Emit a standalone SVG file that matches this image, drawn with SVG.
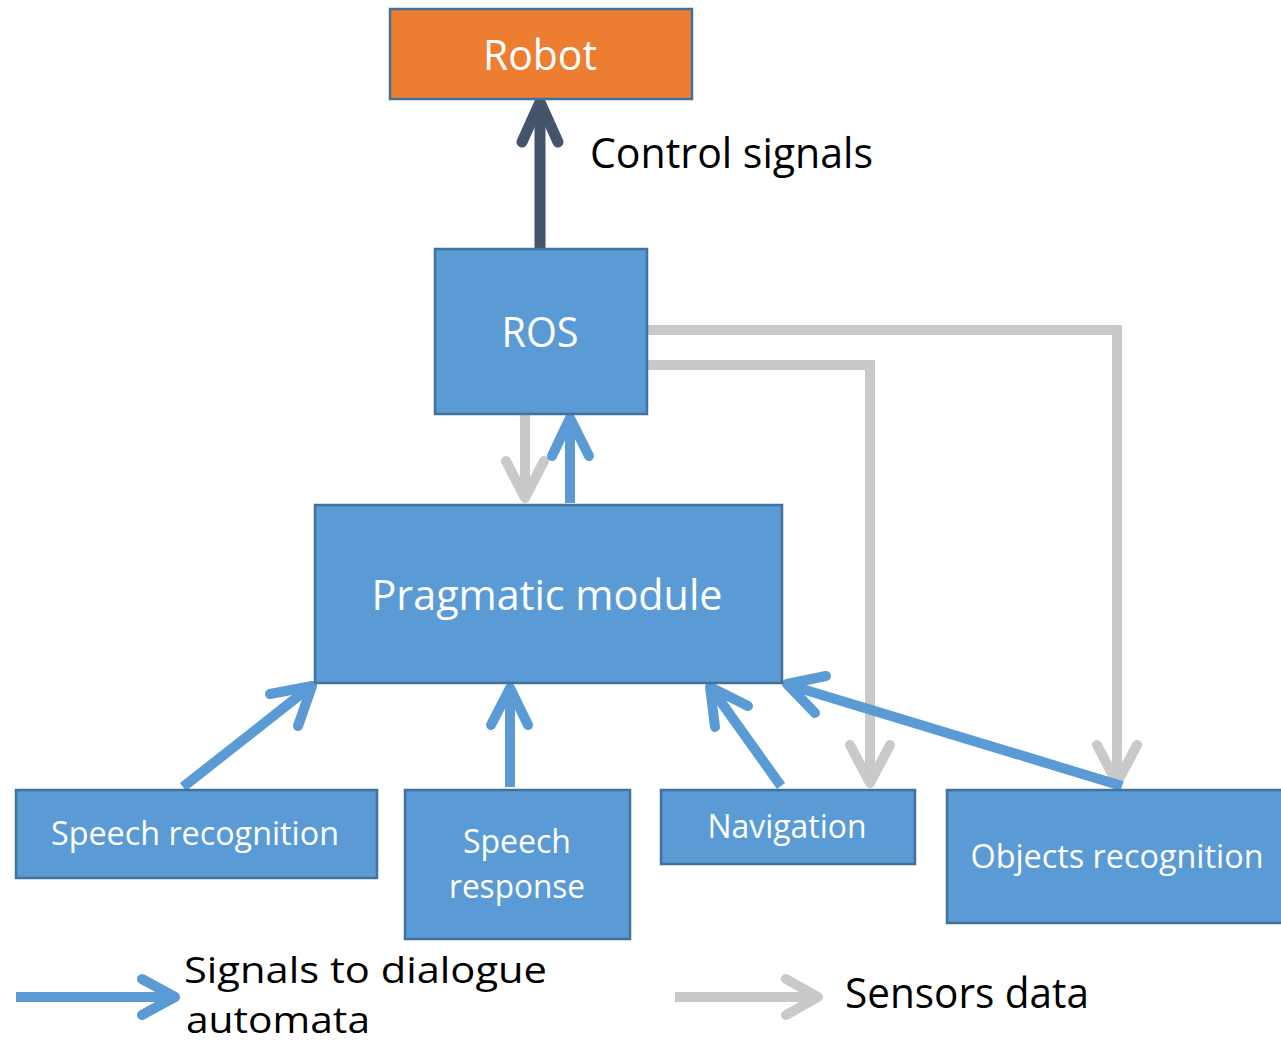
<svg xmlns="http://www.w3.org/2000/svg" width="1281" height="1045" viewBox="0 0 1281 1045">
  <style>
    .box { fill: #5B9BD5; stroke: #41719C; stroke-width: 2.5; }
    .robot { fill: #ED7D31; stroke: #41719C; stroke-width: 2.5; }
    .lbl { font-family: "Open Sans", "Noto Sans", sans-serif; fill: #FFFFFF; text-anchor: middle; }
    .big { font-size: 42px; }
    .small { font-size: 33px; }
    .note { font-family: "Open Sans", "Noto Sans", sans-serif; fill: #000000; font-size: 42px; }
    .legend { font-size: 37px; }
    .blue { fill: none; stroke: #5B9BD5; stroke-width: 10; stroke-linecap: round; stroke-linejoin: round; }
    .blueline { fill: none; stroke: #5B9BD5; stroke-width: 10; }
    .gray { fill: none; stroke: #C9C9C9; stroke-width: 10; }
    .grayhead { fill: none; stroke: #C9C9C9; stroke-width: 10; stroke-linecap: round; stroke-linejoin: round; }
    .dark { fill: none; stroke: #44546A; stroke-width: 11; }
    .darkhead { fill: none; stroke: #44546A; stroke-width: 11; stroke-linecap: round; stroke-linejoin: round; }
  </style>

  <!-- connectors -->
  <g id="connectors">
    <!-- ROS -> Robot control signals -->
    <line class="dark" x1="540" y1="249" x2="540" y2="104"/>
    <polyline class="darkhead" points="522,142 540,102 558,142"/>

    <!-- ROS sensor feeds to Objects recognition and Navigation -->
    <polyline class="gray" points="645,330 1117,330 1117,780"/>
    <polyline class="grayhead" points="1097,745 1117,783 1137,745"/>
    <polyline class="gray" points="640,365 870,365 870,780"/>
    <polyline class="grayhead" points="850,745 870,783 890,745"/>

    <!-- ROS -> Pragmatic module (sensor data) -->
    <line class="gray" x1="525" y1="414" x2="525" y2="498"/>
    <polyline class="grayhead" points="506,461 525,498 544,461"/>

    <!-- Pragmatic module -> ROS -->
    <line class="blueline" x1="570" y1="503" x2="570" y2="420"/>
    <polyline class="blue" points="552,456 570,418 589,456"/>

    <!-- Speech recognition -> Pragmatic module -->
    <line class="blueline" x1="183" y1="787" x2="310" y2="687"/>
    <polyline class="blue" points="270,694 312,686 298,726"/>

    <!-- Speech response -> Pragmatic module -->
    <line class="blueline" x1="510" y1="787" x2="510" y2="690"/>
    <polyline class="blue" points="491,725 510,688 528,725"/>

    <!-- Navigation -> Pragmatic module -->
    <line class="blueline" x1="781" y1="786" x2="711" y2="688"/>
    <polyline class="blue" points="715,727 710,687 748,706"/>

    <!-- Objects recognition -> Pragmatic module -->
    <line class="blueline" x1="1122" y1="786" x2="789" y2="685"/>
    <polyline class="blue" points="826,676 787,684 815,713"/>

    <!-- legend arrows -->
    <line class="blueline" x1="16" y1="997" x2="172" y2="997"/>
    <polyline class="blue" points="142,979 175,997 142,1015"/>
    <line class="gray" x1="675" y1="997" x2="815" y2="997"/>
    <polyline class="grayhead" points="786,979 818,997 786,1015"/>
  </g>

  <g id="robot">
    <rect class="robot" x="390" y="9" width="302" height="90"/>
    <text class="lbl big" x="540" y="70" textLength="114" lengthAdjust="spacingAndGlyphs">Robot</text>
  </g>

  <g id="ros">
    <rect class="box" x="435" y="249" width="212" height="165"/>
    <text class="lbl big" x="540" y="347" textLength="77" lengthAdjust="spacingAndGlyphs">ROS</text>
  </g>

  <g id="pragmatic-module">
    <rect class="box" x="315" y="505" width="467" height="178"/>
    <text class="lbl big" x="547" y="610" textLength="351" lengthAdjust="spacingAndGlyphs">Pragmatic module</text>
  </g>

  <g id="speech-recognition">
    <rect class="box" x="16" y="790" width="361" height="88"/>
    <text class="lbl small" x="195" y="845" textLength="288" lengthAdjust="spacingAndGlyphs">Speech recognition</text>
  </g>

  <g id="speech-response">
    <rect class="box" x="405" y="790" width="225" height="149"/>
    <text class="lbl small" x="517" y="853" textLength="108" lengthAdjust="spacingAndGlyphs">Speech</text>
    <text class="lbl small" x="517" y="898" textLength="136" lengthAdjust="spacingAndGlyphs">response</text>
  </g>

  <g id="navigation">
    <rect class="box" x="661" y="790" width="254" height="74"/>
    <text class="lbl small" x="787" y="838" textLength="159" lengthAdjust="spacingAndGlyphs">Navigation</text>
  </g>

  <g id="objects-recognition">
    <rect class="box" x="947" y="790" width="340" height="133"/>
    <text class="lbl small" x="1117" y="868" textLength="293" lengthAdjust="spacingAndGlyphs">Objects recognition</text>
  </g>

  <g id="labels">
    <text class="note" x="590" y="168" textLength="283" lengthAdjust="spacingAndGlyphs">Control signals</text>
    <text class="note legend" x="184" y="983" textLength="363" lengthAdjust="spacingAndGlyphs">Signals to dialogue</text>
    <text class="note legend" x="186" y="1033" textLength="184" lengthAdjust="spacingAndGlyphs">automata</text>
    <text class="note" x="845" y="1008" textLength="244" lengthAdjust="spacingAndGlyphs">Sensors data</text>
  </g>
</svg>
